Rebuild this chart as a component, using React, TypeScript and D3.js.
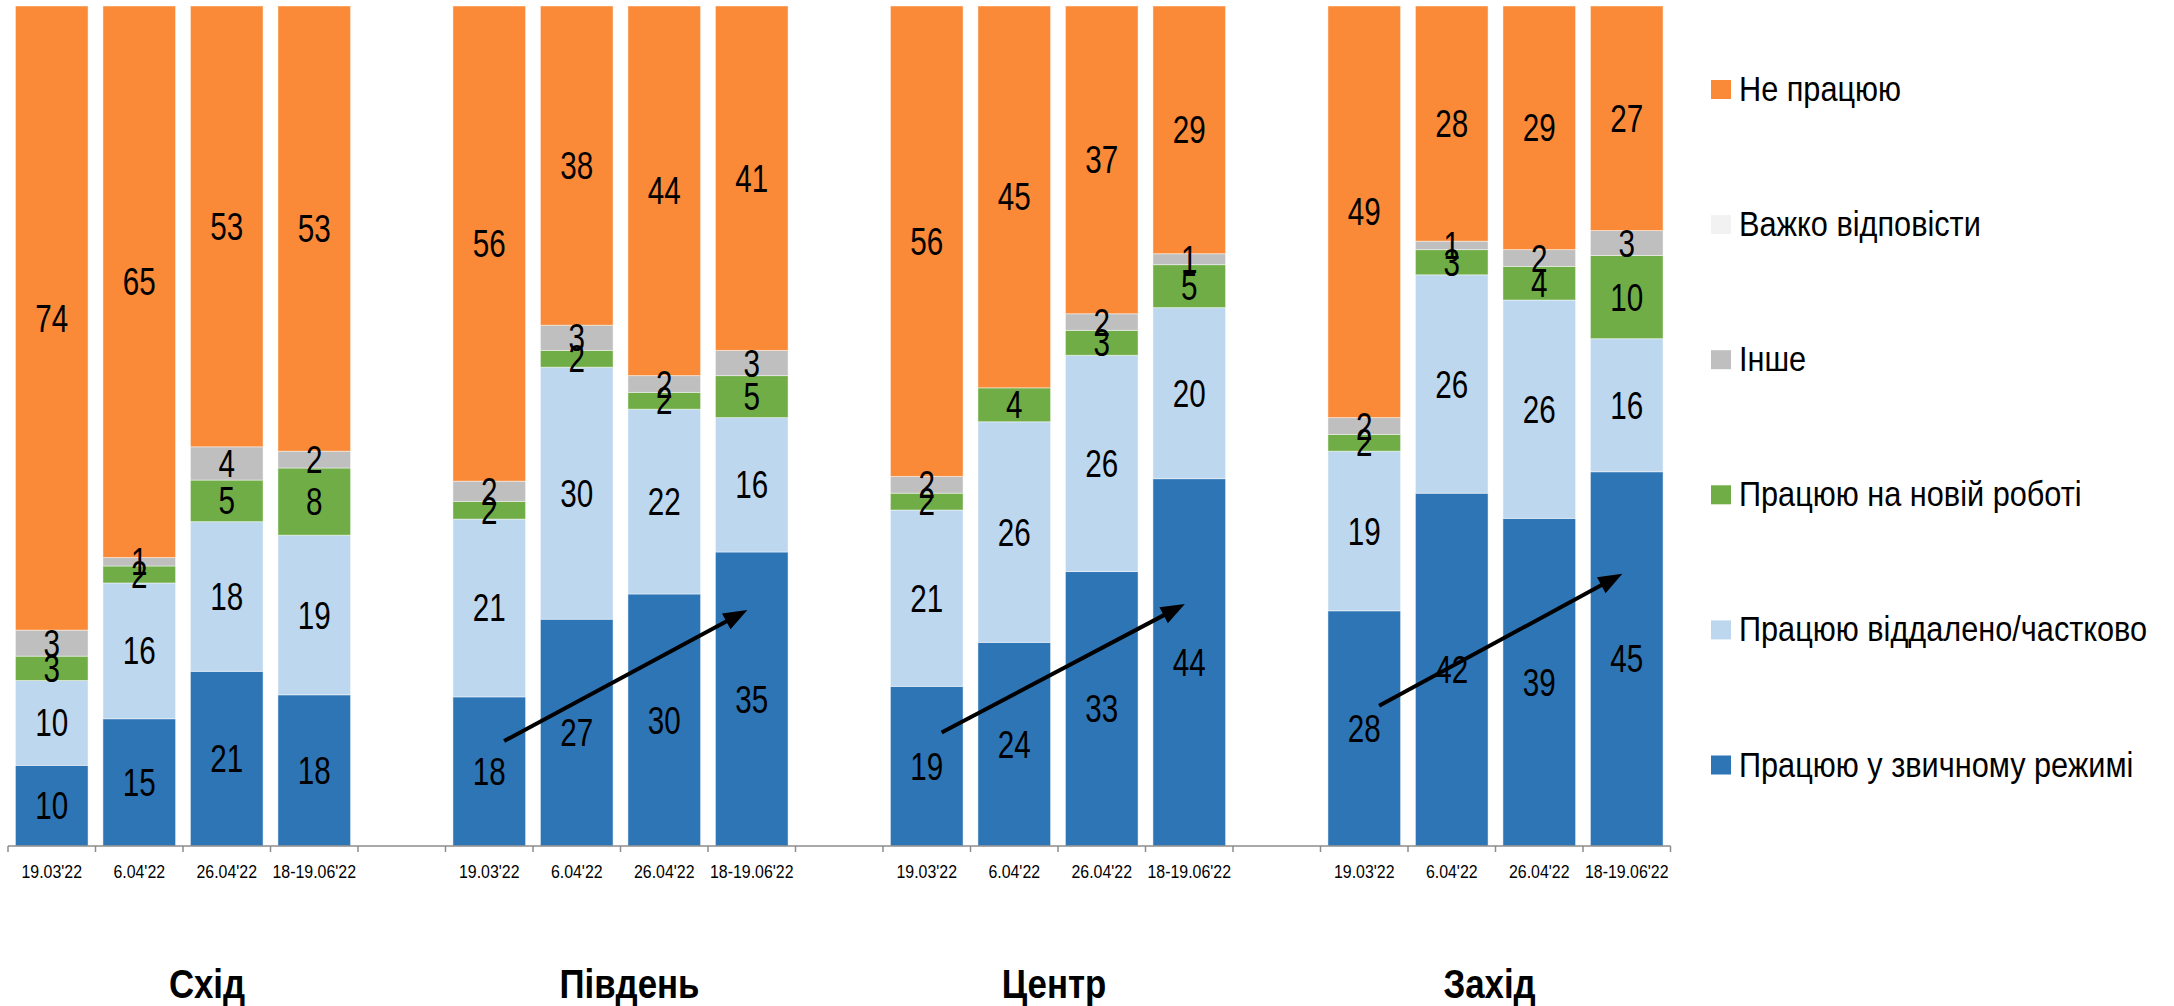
import React from 'react';
import * as d3 from 'd3';

const regions = ['Схід', 'Південь', 'Центр', 'Захід'];
const dates = ["19.03'22", "6.04'22", "26.04'22", "18-19.06'22"];

// series listed bottom-up in the stack
const seriesNames = [
  'Працюю у звичному режимі',
  'Працюю віддалено/частково',
  'Працюю на новій роботі',
  'Інше',
  'Важко відповісти',
  'Не працюю',
];
const seriesColors = ['#2E75B6', '#BDD7EE', '#70AD47', '#BFBFBF', '#F2F2F2', '#FA8A38'];

// values [region][date] (estimated shares; labels show them rounded)
const usual = [[9.6, 15, 21, 18], [17.7, 27, 30, 35], [19, 24, 33, 43.6], [28, 42, 39, 45]];
const remote = [[10.1, 16, 18, 19], [21.1, 30, 22, 16], [21, 26, 26, 20.3], [19, 26, 26, 16]];
const newJob = [[2.9, 2, 5, 8], [2.1, 2, 2, 5], [2, 4, 3, 5.1], [2, 3, 4, 10]];
const other = [[3.1, 1, 4, 2], [2.4, 3, 2, 3], [2, 0, 2, 1.3], [2, 1, 2, 3]];
const hard = [[0, 0, 0, 0], [0, 0, 0, 0], [0, 0, 0, 0], [0, 0, 0, 0]];
const notWorking = [[74.3, 65, 53, 53], [56.4, 38, 44, 41], [56, 45, 37, 29.4], [49, 28, 29, 27]];

// trend arrows (region index, value at tail, value at head)
const arrowRegions = [1, 2, 3];
const arrowFrom = [12.5, 13.5, 16.7];
const arrowTo = [28.1, 28.8, 32.4];

const W = 2174;
const H = 1006;
const FONT = '"Liberation Sans", Arial, sans-serif';

export default function App() {
  const seriesData = [usual, remote, newJob, other, hard, notWorking];
  const keys = seriesNames;

  // build slots: 4 bars per region + an empty slot between regions
  const slots: string[] = [];
  const rows: any[] = [];
  regions.forEach((r, gi) => {
    dates.forEach((d, di) => {
      const key = `${gi}-${di}`;
      slots.push(key);
      const row: any = { key, region: gi, date: di };
      keys.forEach((k, si) => (row[k] = seriesData[si][gi][di]));
      rows.push(row);
    });
    if (gi < regions.length - 1) slots.push(`gap${gi}`);
  });

  const x = d3
    .scaleBand<string>()
    .domain(slots)
    .range([8, 1670.5])
    .paddingInner(0.17)
    .paddingOuter(0.085);
  const step = x.step();
  const y = d3.scaleLinear().domain([0, 1]).range([846, 6]);
  const yv = d3.scaleLinear().domain([0, 100]).range([846, 6]);

  const stack = d3.stack<any>().keys(keys).offset(d3.stackOffsetExpand);
  const layers = stack(rows);

  const slotStart = (k: string) => (x(k) as number) - (step * 0.17) / 2;
  const tickXs = slots.map((k) => slotStart(k)).concat([slotStart(slots[slots.length - 1]) + step]);

  const groupLabelDx = [24, 9, -4, -6];

  const legendY0 = 89.5;
  const legendStep = 135.1;
  const legendOrder = [...seriesNames].reverse();
  const legendColors = [...seriesColors].reverse();

  return (
    <svg
      width={W}
      height={H}
      style={{ position: 'absolute', left: 0, top: 0, display: 'block', background: '#fff' }}
      fontFamily={FONT}
    >
      <rect x={0} y={0} width={W} height={H} fill="#fff" />
      {layers.map((layer, si) => (
        <g key={si}>
          {layer.map((d: any, i: number) => {
            const row = d.data;
            const v = row[keys[si]];
            if (!v) return null;
            const x0 = x(row.key) as number;
            const y0 = y(d[1]);
            const y1 = y(d[0]);
            return (
              <rect
                key={i}
                x={x0}
                y={y0}
                width={x.bandwidth()}
                height={y1 - y0}
                fill={seriesColors[si]}
                stroke="#ffffff"
                strokeOpacity={0.45}
                strokeWidth={1}
              />
            );
          })}
        </g>
      ))}
      {/* value labels */}
      {layers.map((layer, si) => (
        <g key={'l' + si}>
          {layer.map((d: any, i: number) => {
            const row = d.data;
            const v = row[keys[si]];
            if (!v) return null;
            const cx = (x(row.key) as number) + x.bandwidth() / 2;
            const cy = (y(d[0]) + y(d[1])) / 2;
            return (
              <g key={i} transform={`translate(${cx},${cy + 13.5}) scale(0.78,1)`}>
                <text textAnchor="middle" fontSize={38} fill="#000">
                  {Math.round(v)}
                </text>
              </g>
            );
          })}
        </g>
      ))}
      {/* arrows */}
      {arrowRegions.map((gi, ai) => {
        const k0 = `${gi}-0`;
        const k3 = `${gi}-3`;
        const x1 = (x(k0) as number) + x.bandwidth() / 2 + step * 0.17;
        const x2 = (x(k3) as number) + x.bandwidth() / 2 - step * 0.05;
        const y1 = yv(arrowFrom[ai]);
        const y2 = yv(arrowTo[ai]);
        const ang = Math.atan2(y2 - y1, x2 - x1);
        const hl = 24;
        const hw = 9;
        const bx = x2 - hl * Math.cos(ang);
        const by = y2 - hl * Math.sin(ang);
        const px = -Math.sin(ang);
        const py = Math.cos(ang);
        return (
          <g key={'a' + ai}>
            <line x1={x1} y1={y1} x2={bx + 2 * Math.cos(ang)} y2={by + 2 * Math.sin(ang)} stroke="#000" strokeWidth={4} />
            <polygon
              points={`${x2},${y2} ${bx + px * hw},${by + py * hw} ${bx - px * hw},${by - py * hw}`}
              fill="#000"
            />
          </g>
        );
      })}
      {/* axis */}
      <line x1={tickXs[0]} x2={tickXs[tickXs.length - 1]} y1={846} y2={846} stroke="#8C8C8C" strokeWidth={1.5} />
      {tickXs.map((tx, i) => (
        <line key={'t' + i} x1={tx} x2={tx} y1={846} y2={852} stroke="#8C8C8C" strokeWidth={1.5} />
      ))}
      {rows.map((row) => {
        const cx = (x(row.key) as number) + x.bandwidth() / 2;
        return (
          <g key={'xl' + row.key} transform={`translate(${cx},878) scale(0.86,1)`}>
            <text textAnchor="middle" fontSize={18.5} fill="#000">
              {dates[row.date]}
            </text>
          </g>
        );
      })}
      {regions.map((r, gi) => {
        const a = slotStart(`${gi}-0`);
        const b = slotStart(`${gi}-3`) + step;
        const cx = (a + b) / 2 + groupLabelDx[gi];
        return (
          <g key={'g' + gi} transform={`translate(${cx},998) scale(0.87,1)`}>
            <text textAnchor="middle" fontSize={40} fontWeight="bold" fill="#000">
              {r}
            </text>
          </g>
        );
      })}
      {/* legend */}
      {legendOrder.map((name, i) => {
        const cy = legendY0 + i * legendStep;
        return (
          <g key={'lg' + i}>
            <rect x={1711} y={cy - 9.5} width={20} height={19} fill={legendColors[i]} />
            <g transform={`translate(1739,${cy + 11.5}) scale(0.872,1)`}>
              <text fontSize={35.2} fill="#000">
                {name}
              </text>
            </g>
          </g>
        );
      })}
    </svg>
  );
}
